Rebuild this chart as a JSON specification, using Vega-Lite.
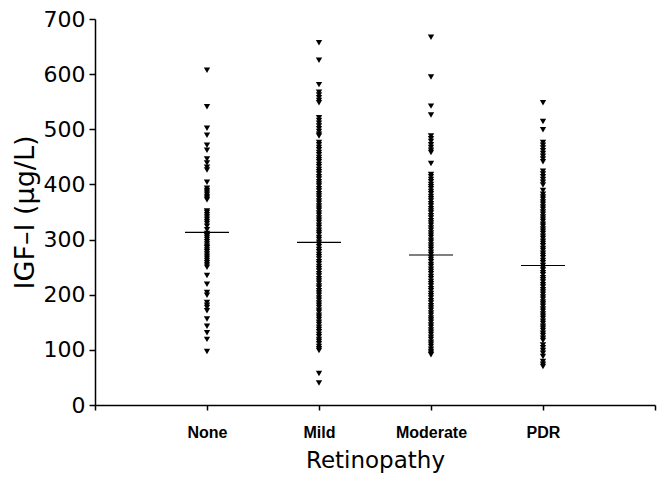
{
  "$schema": "https://vega.github.io/schema/vega-lite/v6.json",
  "width": 560,
  "height": 386,
  "autosize": {"type": "none"},
  "padding": {"left": 95, "top": 19, "right": 2, "bottom": 73},
  "background": "white",
  "config": {
    "view": {"stroke": null},
    "axis": {"grid": false, "domainColor": "black", "tickColor": "black", "labelColor": "black", "titleColor": "black"}
  },
  "datasets": {
    "pts": [
      {"g":"None","v":607},{"g":"None","v":541},{"g":"None","v":502},{"g":"None","v":489},{"g":"None","v":471},{"g":"None","v":462},{"g":"None","v":446},{"g":"None","v":439},{"g":"None","v":431},{"g":"None","v":426},{"g":"None","v":404},{"g":"None","v":393},{"g":"None","v":389},{"g":"None","v":386},{"g":"None","v":382},{"g":"None","v":378},{"g":"None","v":375},{"g":"None","v":372},{"g":"None","v":352},{"g":"None","v":349},{"g":"None","v":345},{"g":"None","v":341},{"g":"None","v":337},{"g":"None","v":333},{"g":"None","v":329},{"g":"None","v":324},{"g":"None","v":318},{"g":"None","v":311},{"g":"None","v":307},{"g":"None","v":304},{"g":"None","v":300},{"g":"None","v":296},{"g":"None","v":292},{"g":"None","v":288},{"g":"None","v":285},{"g":"None","v":281},{"g":"None","v":278},{"g":"None","v":274},{"g":"None","v":270},{"g":"None","v":266},{"g":"None","v":262},{"g":"None","v":258},{"g":"None","v":254},{"g":"None","v":250},{"g":"None","v":235},{"g":"None","v":219},{"g":"None","v":204},{"g":"None","v":199},{"g":"None","v":186},{"g":"None","v":181},{"g":"None","v":177},{"g":"None","v":171},{"g":"None","v":156},{"g":"None","v":143},{"g":"None","v":131},{"g":"None","v":119},{"g":"None","v":97},
      {"g":"Mild","v":657},{"g":"Mild","v":625},{"g":"Mild","v":581},{"g":"Mild","v":567},{"g":"Mild","v":562},{"g":"Mild","v":557},{"g":"Mild","v":552},{"g":"Mild","v":548},{"g":"Mild","v":521},{"g":"Mild","v":516},{"g":"Mild","v":511},{"g":"Mild","v":506},{"g":"Mild","v":501},{"g":"Mild","v":496},{"g":"Mild","v":491},{"g":"Mild","v":488},
      {"g":"Mild","v":476},{"g":"Mild","v":472},{"g":"Mild","v":467},{"g":"Mild","v":463},{"g":"Mild","v":458},{"g":"Mild","v":454},{"g":"Mild","v":449},{"g":"Mild","v":445},{"g":"Mild","v":441},{"g":"Mild","v":436},{"g":"Mild","v":432},{"g":"Mild","v":427},{"g":"Mild","v":423},{"g":"Mild","v":419},{"g":"Mild","v":414},{"g":"Mild","v":410},{"g":"Mild","v":405},{"g":"Mild","v":401},{"g":"Mild","v":397},{"g":"Mild","v":392},{"g":"Mild","v":388},{"g":"Mild","v":383},{"g":"Mild","v":379},{"g":"Mild","v":375},{"g":"Mild","v":370},{"g":"Mild","v":366},{"g":"Mild","v":361},{"g":"Mild","v":357},{"g":"Mild","v":353},{"g":"Mild","v":348},{"g":"Mild","v":344},{"g":"Mild","v":339},{"g":"Mild","v":335},{"g":"Mild","v":331},{"g":"Mild","v":326},{"g":"Mild","v":322},{"g":"Mild","v":317},{"g":"Mild","v":313},{"g":"Mild","v":309},{"g":"Mild","v":304},{"g":"Mild","v":300},{"g":"Mild","v":295},{"g":"Mild","v":291},{"g":"Mild","v":287},{"g":"Mild","v":282},{"g":"Mild","v":278},{"g":"Mild","v":273},{"g":"Mild","v":269},{"g":"Mild","v":265},{"g":"Mild","v":260},{"g":"Mild","v":256},{"g":"Mild","v":251},{"g":"Mild","v":247},{"g":"Mild","v":243},{"g":"Mild","v":238},{"g":"Mild","v":234},{"g":"Mild","v":229},{"g":"Mild","v":225},{"g":"Mild","v":221},{"g":"Mild","v":216},{"g":"Mild","v":212},{"g":"Mild","v":207},{"g":"Mild","v":203},{"g":"Mild","v":199},{"g":"Mild","v":194},{"g":"Mild","v":190},{"g":"Mild","v":185},{"g":"Mild","v":181},{"g":"Mild","v":177},{"g":"Mild","v":172},{"g":"Mild","v":168},{"g":"Mild","v":163},{"g":"Mild","v":159},{"g":"Mild","v":155},{"g":"Mild","v":150},{"g":"Mild","v":146},{"g":"Mild","v":141},{"g":"Mild","v":137},{"g":"Mild","v":133},{"g":"Mild","v":128},{"g":"Mild","v":124},{"g":"Mild","v":119},{"g":"Mild","v":115},{"g":"Mild","v":111},{"g":"Mild","v":106},{"g":"Mild","v":102},{"g":"Mild","v":99},{"g":"Mild","v":57},{"g":"Mild","v":40},
      {"g":"Moderate","v":667},{"g":"Moderate","v":595},{"g":"Moderate","v":542},{"g":"Moderate","v":526},{"g":"Moderate","v":488},{"g":"Moderate","v":483},{"g":"Moderate","v":478},{"g":"Moderate","v":472},{"g":"Moderate","v":467},{"g":"Moderate","v":462},{"g":"Moderate","v":458},{"g":"Moderate","v":438},
      {"g":"Moderate","v":418},{"g":"Moderate","v":414},{"g":"Moderate","v":409},{"g":"Moderate","v":405},{"g":"Moderate","v":400},{"g":"Moderate","v":396},{"g":"Moderate","v":392},{"g":"Moderate","v":387},{"g":"Moderate","v":383},{"g":"Moderate","v":378},{"g":"Moderate","v":374},{"g":"Moderate","v":370},{"g":"Moderate","v":365},{"g":"Moderate","v":361},{"g":"Moderate","v":356},{"g":"Moderate","v":352},{"g":"Moderate","v":348},{"g":"Moderate","v":343},{"g":"Moderate","v":339},{"g":"Moderate","v":334},{"g":"Moderate","v":330},{"g":"Moderate","v":326},{"g":"Moderate","v":321},{"g":"Moderate","v":317},{"g":"Moderate","v":312},{"g":"Moderate","v":308},{"g":"Moderate","v":304},{"g":"Moderate","v":299},{"g":"Moderate","v":295},{"g":"Moderate","v":290},{"g":"Moderate","v":286},{"g":"Moderate","v":282},{"g":"Moderate","v":277},{"g":"Moderate","v":273},{"g":"Moderate","v":268},{"g":"Moderate","v":264},{"g":"Moderate","v":260},{"g":"Moderate","v":255},{"g":"Moderate","v":251},{"g":"Moderate","v":246},{"g":"Moderate","v":242},{"g":"Moderate","v":238},{"g":"Moderate","v":233},{"g":"Moderate","v":229},{"g":"Moderate","v":224},{"g":"Moderate","v":220},{"g":"Moderate","v":216},{"g":"Moderate","v":211},{"g":"Moderate","v":207},{"g":"Moderate","v":202},{"g":"Moderate","v":198},{"g":"Moderate","v":194},{"g":"Moderate","v":189},{"g":"Moderate","v":185},{"g":"Moderate","v":180},{"g":"Moderate","v":176},{"g":"Moderate","v":172},{"g":"Moderate","v":167},{"g":"Moderate","v":163},{"g":"Moderate","v":158},{"g":"Moderate","v":154},{"g":"Moderate","v":150},{"g":"Moderate","v":145},{"g":"Moderate","v":141},{"g":"Moderate","v":136},{"g":"Moderate","v":132},{"g":"Moderate","v":128},{"g":"Moderate","v":123},{"g":"Moderate","v":119},{"g":"Moderate","v":114},{"g":"Moderate","v":110},{"g":"Moderate","v":106},{"g":"Moderate","v":101},{"g":"Moderate","v":97},{"g":"Moderate","v":94},{"g":"Moderate","v":91},
      {"g":"PDR","v":548},{"g":"PDR","v":514},{"g":"PDR","v":499},{"g":"PDR","v":476},{"g":"PDR","v":471},{"g":"PDR","v":466},{"g":"PDR","v":461},{"g":"PDR","v":456},{"g":"PDR","v":451},{"g":"PDR","v":446},{"g":"PDR","v":441},{"g":"PDR","v":424},{"g":"PDR","v":419},{"g":"PDR","v":414},{"g":"PDR","v":409},{"g":"PDR","v":404},{"g":"PDR","v":399},{"g":"PDR","v":389},{"g":"PDR","v":382},{"g":"PDR","v":377},{"g":"PDR","v":373},{"g":"PDR","v":368},{"g":"PDR","v":364},{"g":"PDR","v":359},{"g":"PDR","v":355},{"g":"PDR","v":350},{"g":"PDR","v":346},{"g":"PDR","v":341},{"g":"PDR","v":337},{"g":"PDR","v":333},{"g":"PDR","v":328},{"g":"PDR","v":324},{"g":"PDR","v":319},{"g":"PDR","v":315},{"g":"PDR","v":311},{"g":"PDR","v":306},{"g":"PDR","v":302},{"g":"PDR","v":297},{"g":"PDR","v":293},{"g":"PDR","v":289},{"g":"PDR","v":284},{"g":"PDR","v":280},{"g":"PDR","v":275},{"g":"PDR","v":271},{"g":"PDR","v":267},{"g":"PDR","v":262},{"g":"PDR","v":258},{"g":"PDR","v":253},{"g":"PDR","v":249},{"g":"PDR","v":245},{"g":"PDR","v":240},{"g":"PDR","v":236},{"g":"PDR","v":231},{"g":"PDR","v":227},{"g":"PDR","v":223},{"g":"PDR","v":218},{"g":"PDR","v":214},{"g":"PDR","v":209},{"g":"PDR","v":205},{"g":"PDR","v":201},{"g":"PDR","v":196},{"g":"PDR","v":192},{"g":"PDR","v":187},{"g":"PDR","v":183},{"g":"PDR","v":179},{"g":"PDR","v":174},{"g":"PDR","v":170},{"g":"PDR","v":165},{"g":"PDR","v":161},{"g":"PDR","v":157},{"g":"PDR","v":152},{"g":"PDR","v":148},{"g":"PDR","v":143},{"g":"PDR","v":139},{"g":"PDR","v":135},{"g":"PDR","v":130},{"g":"PDR","v":126},{"g":"PDR","v":121},{"g":"PDR","v":117},{"g":"PDR","v":109},{"g":"PDR","v":104},{"g":"PDR","v":99},{"g":"PDR","v":94},{"g":"PDR","v":88},{"g":"PDR","v":79},{"g":"PDR","v":74},{"g":"PDR","v":70}
    ],
    "med": [
      {"g":"None","m":313},{"g":"Mild","m":295},{"g":"Moderate","m":272},{"g":"PDR","m":253}
    ]
  },
  "layer": [
    {
      "data": {"name": "pts"},
      "mark": {"type": "point", "shape": "triangle-down", "filled": true, "size": 40, "color": "black", "opacity": 1},
      "encoding": {
        "x": {
          "field": "g", "type": "nominal",
          "scale": {"type": "point", "domain": ["lo", "None", "Mild", "Moderate", "PDR", "hi"], "padding": 0},
          "axis": {
            "title": "Retinopathy",
            "titleFont": "DejaVu Sans", "titleFontSize": 23, "titleFontWeight": "normal", "titlePadding": 9,
            "labelFont": "Liberation Sans", "labelFontSize": 16, "labelFontWeight": "bold",
            "labelAngle": 0, "labelPadding": 14,
            "labelExpr": "datum.value == 'lo' || datum.value == 'hi' ? '' : datum.value",
            "tickSize": 5, "tickWidth": 1.5, "domainWidth": 1.5
          }
        },
        "y": {
          "field": "v", "type": "quantitative",
          "scale": {"domain": [0, 700], "nice": false, "zero": true},
          "axis": {
            "values": [0, 50, 100, 150, 200, 250, 300, 350, 400, 450, 500, 550, 600, 650, 700],
            "labelExpr": "datum.value % 100 == 0 ? datum.label : ''",
            "labelOverlap": false,
            "tickSize": {"condition": {"test": "datum.value % 100 == 0", "value": 6}, "value": 3},
            "tickWidth": 1.5, "domainWidth": 1.5,
            "labelFont": "DejaVu Sans", "labelFontSize": 22, "labelPadding": 4,
            "title": "IGF–I  (μg/L)",
            "titleFont": "DejaVu Sans", "titleFontSize": 27, "titleFontWeight": "normal", "titlePadding": 4
          }
        }
      }
    },
    {
      "data": {"name": "med"},
      "mark": {"type": "tick", "size": 44, "thickness": 1.2, "color": "black", "opacity": 1},
      "encoding": {
        "x": {"field": "g", "type": "nominal"},
        "y": {"field": "m", "type": "quantitative"}
      }
    }
  ]
}
